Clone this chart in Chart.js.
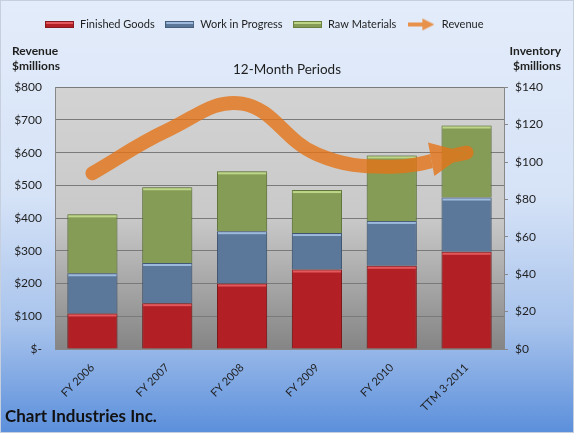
<!DOCTYPE html>
<html>
<head>
<meta charset="utf-8">
<script src="https://cdn.jsdelivr.net/npm/chart.js@4.4.0/dist/chart.umd.min.js"></script>
<style>
  html, body { margin: 0; padding: 0; background: #fff; }
  #wrap { width: 574px; height: 433px; }
</style>
</head>
<body>
<div id="wrap"><canvas id="chart"></canvas></div>
<script>
const categories = ["FY 2006", "FY 2007", "FY 2008", "FY 2009", "FY 2010", "TTM 3-2011"];
const finishedGoods = [19, 24.5, 35, 42.5, 44.5, 52];
const workInProgress = [21.5, 21.5, 28, 19.5, 24, 29];
const rawMaterials = [31.5, 40.5, 32, 23, 35, 38.5];
const revenue = [537, 668, 750, 595, 557, 600];

const revenueTicks = [0, 100, 200, 300, 400, 500, 600, 700, 800];
const inventoryTicks = [0, 20, 40, 60, 80, 100, 120, 140];

const FONT = 'Lato, "Open Sans", sans-serif';
const TEXT = "#1f1f1f";
const LINE_COLOR = "rgba(229,116,24,0.8)";

const barColors = [
  { fill: "#b21f24", edge: "#861a1c", hi: "#e2585c" },
  { fill: "#5b7799", edge: "#465f7d", hi: "#9dbadd" },
  { fill: "#849c55", edge: "#69803f", hi: "#bdd587" },
];

// little canvases used as legend icons
function legendBar(c) {
  const cv = document.createElement("canvas");
  cv.width = 29;
  cv.height = 7;
  const g = cv.getContext("2d");
  g.fillStyle = c.edge;
  g.fillRect(0, 0, 29, 7);
  g.fillStyle = c.fill;
  g.fillRect(1, 1, 27, 5);
  g.fillStyle = c.hi;
  g.fillRect(1, 1, 27, 2);
  return cv;
}
function legendArrow() {
  const cv = document.createElement("canvas");
  cv.width = 26;
  cv.height = 14;
  const g = cv.getContext("2d");
  g.fillStyle = "#e8914a";
  g.fillRect(0, 5, 16, 4);
  g.beginPath();
  g.moveTo(14, 1);
  g.lineTo(26, 7);
  g.lineTo(14, 13);
  g.closePath();
  g.fill();
  return cv;
}
const legendIcons = [legendBar(barColors[0]), legendBar(barColors[1]), legendBar(barColors[2]), legendArrow()];

function arrowTriangle(meta) {
  const pts = meta.data;
  const p = pts[pts.length - 1];
  const q = pts[pts.length - 2];
  let dx = p.x - (p.cp1x !== undefined ? p.cp1x : q.x);
  let dy = p.y - (p.cp1y !== undefined ? p.cp1y : q.y);
  const len = Math.hypot(dx, dy) || 1;
  dx /= len;
  dy /= len;
  const L = 36, W = 17;
  const bx = p.x - dx * L, by = p.y - dy * L;
  return [
    [p.x, p.y],
    [bx - dy * W, by + dx * W],
    [bx + dy * W, by - dx * W],
  ];
}

const backgroundPlugin = {
  id: "backgrounds",
  beforeDraw(chart) {
    const { ctx, width, height, chartArea: a } = chart;
    ctx.save();
    let g = ctx.createLinearGradient(0, 0, 0, height);
    g.addColorStop(0, "#e3ecfa");
    g.addColorStop(0.45, "#d6e3f7");
    g.addColorStop(0.75, "#a8c3ec");
    g.addColorStop(1, "#5b8fdb");
    ctx.fillStyle = g;
    ctx.fillRect(0, 0, width, height);
    ctx.strokeStyle = "#c5cfdd";
    ctx.strokeRect(0.5, 0.5, width - 1, height - 1);

    g = ctx.createLinearGradient(0, a.top, 0, a.bottom);
    g.addColorStop(0, "#d3d3d3");
    g.addColorStop(0.5, "#c9c9c9");
    g.addColorStop(1, "#858585");
    ctx.fillStyle = g;
    ctx.fillRect(a.left, a.top, a.right - a.left, a.bottom - a.top);
    ctx.restore();
  },
  afterLayout(chart) {
    // legend in the reference sits a bit left of centre
    chart.legend.right -= 46;
  },
};

const barLookPlugin = {
  id: "barLook",
  beforeDatasetDraw(chart, args) {
    const ctx = chart.ctx;
    if (args.meta.type === "bar") {
      ctx.save();
      ctx.shadowColor = "rgba(0,0,0,0.3)";
      ctx.shadowBlur = 3;
    } else if (args.meta.type === "line") {
      const t = arrowTriangle(args.meta);
      ctx.save();
      ctx.beginPath();
      ctx.rect(0, 0, chart.width, chart.height);
      ctx.moveTo(t[0][0], t[0][1]);
      ctx.lineTo(t[1][0], t[1][1]);
      ctx.lineTo(t[2][0], t[2][1]);
      ctx.closePath();
      ctx.clip("evenodd");
    }
  },
  afterDatasetDraw(chart, args) {
    const ctx = chart.ctx;
    ctx.restore();
    if (args.meta.type === "bar") {
      const c = barColors[args.index];
      ctx.save();
      ctx.fillStyle = c.hi;
      args.meta.data.forEach(b => {
        ctx.fillRect(b.x - b.width / 2 + 1, b.y + 1, b.width - 2, 2);
      });
      ctx.restore();
    } else if (args.meta.type === "line") {
      const t = arrowTriangle(args.meta);
      ctx.save();
      ctx.fillStyle = LINE_COLOR;
      ctx.beginPath();
      ctx.moveTo(t[0][0], t[0][1]);
      ctx.lineTo(t[1][0], t[1][1]);
      ctx.lineTo(t[2][0], t[2][1]);
      ctx.closePath();
      ctx.fill();
      ctx.restore();
    }
  },
};

const textPlugin = {
  id: "freeText",
  afterDraw(chart) {
    const ctx = chart.ctx;
    ctx.save();
    ctx.fillStyle = TEXT;
    ctx.textBaseline = "middle";
    ctx.font = "bold 12px " + FONT;
    ctx.textAlign = "left";
    ctx.fillText("Revenue", 12, 51);
    ctx.fillText("$millions", 12, 66);
    ctx.textAlign = "right";
    ctx.fillText("Inventory", 561, 51);
    ctx.fillText("$millions", 561, 66);
    ctx.textAlign = "left";
    ctx.font = "bold 17px " + FONT;
    ctx.fillStyle = "#111";
    ctx.fillText("Chart Industries Inc.", 5, 417);
    ctx.restore();
  },
};

const barNames = ["Finished Goods", "Work in Progress", "Raw Materials"];
const barSeries = [finishedGoods, workInProgress, rawMaterials];

const datasets = barSeries.map((values, i) => ({
  type: "bar",
  label: barNames[i],
  data: values,
  yAxisID: "y1",
  order: 1,
  backgroundColor: barColors[i].fill,
  borderColor: barColors[i].edge,
  borderWidth: 1,
  barPercentage: 0.67,
  categoryPercentage: 1,
}));

datasets.push({
  type: "line",
  label: "Revenue",
  data: revenue,
  yAxisID: "y",
  order: 0,
  borderColor: LINE_COLOR,
  borderWidth: 14,
  borderCapStyle: "round",
  borderJoinStyle: "round",
  tension: 0.4,
  pointRadius: 0,
  fill: false,
});

new Chart(document.getElementById("chart"), {
  data: { labels: categories, datasets: datasets },
  plugins: [backgroundPlugin, barLookPlugin, textPlugin],
  options: {
    responsive: true,
    maintainAspectRatio: false,
    animation: false,
    layout: { padding: { top: 9, bottom: 20, left: 0, right: 0 } },
    plugins: {
      tooltip: { enabled: false },
      legend: {
        position: "top",
        labels: {
          font: { family: FONT, size: 11 },
          color: TEXT,
          usePointStyle: true,
          pointStyleWidth: 30,
          padding: 10,
          generateLabels: chart =>
            chart.data.datasets.map((ds, i) => ({
              text: ds.label,
              datasetIndex: i,
              pointStyle: legendIcons[i],
              fontColor: TEXT,
              lineWidth: 0,
              hidden: false,
            })),
        },
      },
      title: {
        display: true,
        weight: 100,
        text: "12-Month Periods",
        color: TEXT,
        font: { family: FONT, size: 13.5, weight: "normal" },
        padding: { top: 22, bottom: 9 },
      },
    },
    scales: {
      x: {
        stacked: true,
        grid: { display: false },
        border: { color: "#888" },
        ticks: {
          color: TEXT,
          font: { family: FONT, size: 11 },
          maxRotation: 45,
          minRotation: 45,
          autoSkip: false,
          padding: 4,
        },
        afterFit: s => { s.height = 64; },
      },
      y: {
        position: "left",
        min: 0,
        max: 800,
        afterBuildTicks: s => { s.ticks = revenueTicks.map(v => ({ value: v })); },
        grid: { color: "#7a7a7a", drawTicks: false },
        border: { color: "#888" },
        ticks: {
          color: TEXT,
          font: { family: FONT, size: 12 },
          padding: 13,
          callback: v => (v === 0 ? "$-" : "$" + v),
        },
        afterFit: s => { s.width = 55; },
      },
      y1: {
        position: "right",
        stacked: true,
        min: 0,
        max: 140,
        afterBuildTicks: s => { s.ticks = inventoryTicks.map(v => ({ value: v })); },
        grid: { drawOnChartArea: false, drawTicks: true, tickLength: 4, color: "#888" },
        border: { color: "#888" },
        ticks: {
          color: TEXT,
          font: { family: FONT, size: 12 },
          padding: 7,
          callback: v => "$" + v,
        },
        afterFit: s => { s.width = 70; },
      },
    },
  },
});
</script>
</body>
</html>
